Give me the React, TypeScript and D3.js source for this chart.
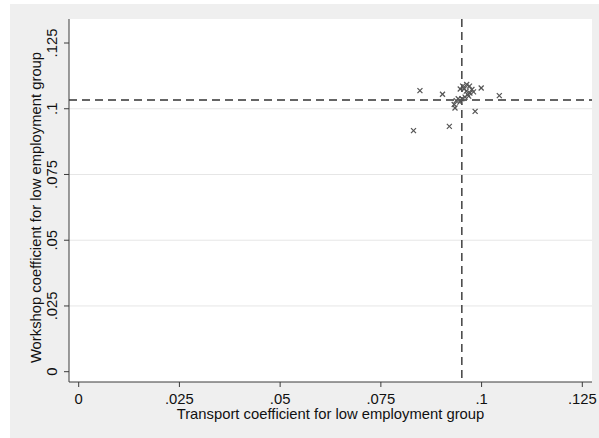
import React from "react";
import * as d3 from "d3";

// Estimated coefficients per unit: transport (x) vs workshop (y)
const transportCoef = [
  0.0831, 0.0847, 0.0903, 0.092, 0.0984, 0.0999, 0.1044,
  0.0947, 0.0953, 0.0963, 0.097, 0.0976, 0.098, 0.0971, 0.0965, 0.0959,
  0.0951, 0.0942, 0.0937, 0.0932, 0.0934, 0.0962, 0.0957, 0.0946, 0.0968,
];
const workshopCoef = [
  0.0917, 0.1069, 0.1055, 0.0933, 0.099, 0.1079, 0.105,
  0.1075, 0.1086, 0.1092, 0.1086, 0.1073, 0.1064, 0.106, 0.1054, 0.1044,
  0.1038, 0.1038, 0.1031, 0.1016, 0.1003, 0.1067, 0.1076, 0.1025, 0.1048,
];
const xTicks = [0, 0.025, 0.05, 0.075, 0.1, 0.125];
const yTicks = [0, 0.025, 0.05, 0.075, 0.1, 0.125];
const yGrid = [0.025, 0.05, 0.075, 0.1];
const xRef = 0.0951;
const yRef = 0.1033;

const fmt = (v: number) => (v === 0 ? "0" : String(v).replace(/^0/, ""));

export default function App() {
  const W = 599;
  const H = 438;
  const plot = { left: 69, right: 592, top: 19, bottom: 382 };
  const x = d3.scaleLinear().domain([0, 0.125]).range([78.7, 582.3]);
  const y = d3.scaleLinear().domain([0, 0.125]).range([371.7, 43]);
  const font = "'Liberation Sans', Arial, sans-serif";
  const axisColor = "#3a3a3a";
  const fs = 14.8;
  const pts = transportCoef.map((v, i) => [v, workshopCoef[i]]);
  const m = 2.5;

  return (
    <svg
      width={W}
      height={H}
      style={{ position: "absolute", left: 0, top: 0, display: "block" }}
      fontFamily={font}
    >
      <rect x={0} y={0} width={W} height={H} fill="#ffffff" />
      <rect x={10} y={4} width={W - 10} height={H - 4} fill="#efefef" />
      <rect
        x={plot.left}
        y={plot.top}
        width={plot.right - plot.left}
        height={plot.bottom - plot.top}
        fill="#ffffff"
      />
      {yGrid.map((t) => (
        <line
          key={"g" + t}
          x1={plot.left}
          x2={plot.right}
          y1={y(t)}
          y2={y(t)}
          stroke="#e6e6e6"
          strokeWidth={1}
        />
      ))}
      {/* reference lines */}
      <line
        x1={plot.left}
        x2={plot.right}
        y1={y(yRef)}
        y2={y(yRef)}
        stroke="#333"
        strokeWidth={1.4}
        strokeDasharray="8,5"
      />
      <line
        x1={x(xRef)}
        x2={x(xRef)}
        y1={plot.top}
        y2={plot.bottom}
        stroke="#333"
        strokeWidth={1.4}
        strokeDasharray="8,5"
      />
      {/* markers */}
      {pts.map(([a, b], i) => (
        <g key={"p" + i} stroke="#555" strokeWidth={1.2}>
          <line x1={x(a) - m} y1={y(b) - m} x2={x(a) + m} y2={y(b) + m} />
          <line x1={x(a) - m} y1={y(b) + m} x2={x(a) + m} y2={y(b) - m} />
        </g>
      ))}
      {/* axes */}
      <line x1={plot.left} x2={plot.left} y1={plot.top} y2={plot.bottom} stroke={axisColor} />
      <line x1={plot.left} x2={plot.right} y1={plot.bottom} y2={plot.bottom} stroke={axisColor} />
      {yTicks.map((t) => (
        <g key={"y" + t}>
          <line x1={plot.left - 5} x2={plot.left} y1={y(t)} y2={y(t)} stroke={axisColor} />
          <text
            transform={`translate(57,${y(t)}) rotate(-90)`}
            textAnchor="middle"
            fontSize={fs}
            fill="#111"
          >
            {fmt(t)}
          </text>
        </g>
      ))}
      {xTicks.map((t) => (
        <g key={"x" + t}>
          <line x1={x(t)} x2={x(t)} y1={plot.bottom} y2={plot.bottom + 5} stroke={axisColor} />
          <text x={x(t)} y={404} textAnchor="middle" fontSize={fs} fill="#111">
            {fmt(t)}
          </text>
        </g>
      ))}
      <text
        x={(plot.left + plot.right) / 2}
        y={418.5}
        textAnchor="middle"
        fontSize={fs}
        fill="#111"
      >
        Transport coefficient for low employment group
      </text>
      <text
        transform={`translate(40.5,${(plot.top + plot.bottom) / 2 + 7}) rotate(-90)`}
        textAnchor="middle"
        fontSize={fs}
        fill="#111"
      >
        Workshop coefficient for low employment group
      </text>
    </svg>
  );
}
